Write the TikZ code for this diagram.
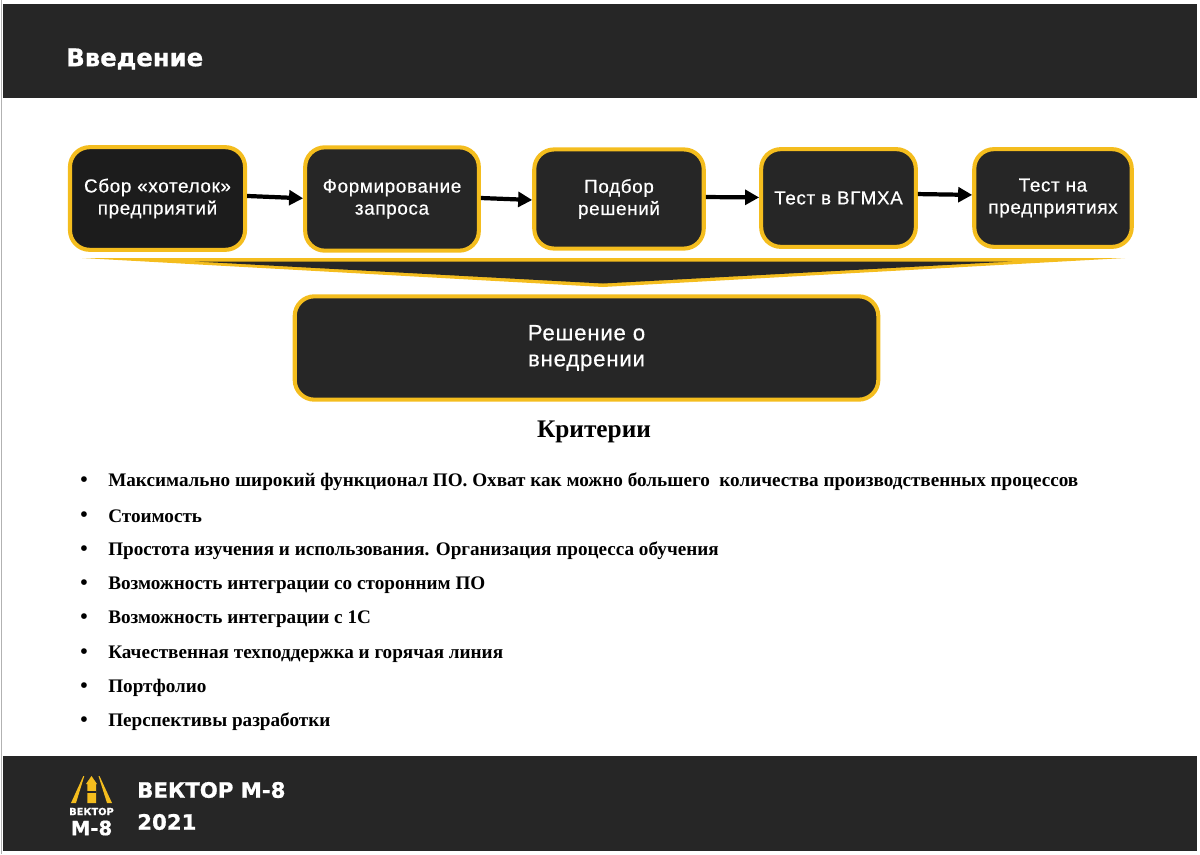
\documentclass[tikz,border=0pt]{standalone}
\usepackage{fontspec}
\setmainfont{Liberation Sans}
\newfontfamily\boxfont[FakeBold=0.5, LetterSpace=3.5]{Liberation Sans}
\newfontfamily\serifrus{Liberation Serif}
\newfontfamily\widefont[FakeBold=0.8]{DejaVu Sans}
\usepackage{xcolor}
\definecolor{dark}{RGB}{38,38,38}
\definecolor{darker}{RGB}{28,28,28}
\definecolor{accent}{RGB}{244,189,30}
\usepackage{tikz}
\usetikzlibrary{
    arrows.meta
}
\tikzset{
    stagebox/.style={draw=accent, line width=2.9pt, fill=dark, rounded corners=14pt, text=white,
        font=\boxfont\fontsize{13.4}{15.7}\selectfont, align=center, inner sep=0pt},
    flowarrow/.style={line width=3pt, -{Triangle[length=10pt,width=10.5pt]}},
    critem/.style={font=\serifrus\bfseries\fontsize{13.63}{15}\selectfont, anchor=west, inner sep=0pt},
    crbullet/.style={font=\serifrus\fontsize{17}{17}\selectfont, inner sep=0pt}
}

\begin{document}
\begin{tikzpicture}[x=0.025cm, y=-0.025cm]
        \useasboundingbox (0, 0) rectangle (1200, 854);
        % Page frame
        \draw[gray!60, line width=0.7pt] (1, 0) -- (1, 854);

        % Header
        \fill[dark] (3, 4) rectangle (1197, 98);
        \node[font=\widefont\bfseries\fontsize{17.3}{19}\selectfont, text=white, anchor=west, inner sep=0pt] (title) at (66, 59) {Введение};

        % Process boxes
        \node[stagebox, fill=darker, minimum width=124.5pt, minimum height=73pt] (collect) at (157.5, 198.5) {Сбор «хотелок»\\предприятий};
        \node[stagebox, minimum width=123.5pt, minimum height=73.5pt] (request) at (392, 199) {Формирование\\запроса};
        \node[stagebox, minimum width=120.5pt, minimum height=70.5pt] (select) at (619, 199) {Подбор\\решений};
        \node[stagebox, minimum width=110pt, minimum height=69.5pt] (vgmha) at (838.5, 198) {Тест в ВГМХА};
        \node[stagebox, minimum width=112pt, minimum height=69.5pt] (plants) at (1053, 198) {Тест на\\предприятиях};

        % Arrows
        \draw[flowarrow] ([yshift=1.8pt]collect.east) -- ([yshift=0.5pt]request.west);
        \draw[flowarrow] ([yshift=0.7pt]request.east) -- ([yshift=-0.7pt]select.west);
        \draw[flowarrow] ([yshift=1.4pt]select.east) -- ([yshift=0.4pt]vgmha.west);
        \draw[flowarrow] ([yshift=2.8pt]vgmha.east) -- ([yshift=2.2pt]plants.west);

        % Funnel
        \fill[accent] (82, 258) -- (1125, 258) -- (603, 287) -- cycle;
        \fill[dark] (195, 261.5) -- (1012, 261.5) -- (603, 283.5) -- cycle;

        % Decision
        \node[stagebox, font=\boxfont\fontsize{15.8}{18.5}\selectfont, minimum width=415pt, minimum height=73.5pt] (decision) at (586.5, 348) {Решение о\\внедрении};

        % Criteria
        \node[font=\serifrus\bfseries\fontsize{18}{20}\selectfont, inner sep=0pt] (crit) at (594, 432) {Критерии};

        \node[crbullet] (b1) at (84, 482) {•};
        \node[critem] (c1) at (108, 482) {Максимально широкий функционал ПО. Охват как можно большего\ \ количества производственных процессов};
        \node[crbullet] (b2) at (84, 517) {•};
        \node[critem] (c2) at (108, 516) {Стоимость};
        \node[crbullet] (b3) at (84, 551) {•};
        \node[critem] (c3) at (108, 551) {Простота изучения и использования. Организация процесса обучения};
        \node[crbullet] (b4) at (84, 585) {•};
        \node[critem] (c4) at (108, 585) {Возможность интеграции со сторонним ПО};
        \node[crbullet] (b5) at (84, 619) {•};
        \node[critem] (c5) at (108, 619) {Возможность интеграции с 1С};
        \node[crbullet] (b6) at (84, 654) {•};
        \node[critem] (c6) at (108, 654) {Качественная техподдержка и горячая линия};
        \node[crbullet] (b7) at (84, 688) {•};
        \node[critem] (c7) at (108, 688) {Портфолио};
        \node[crbullet] (b8) at (84, 722) {•};
        \node[critem] (c8) at (108, 722) {Перспективы разработки};

        % Footer
        \fill[dark] (3, 756) rectangle (1197, 851);
        \node[font=\widefont\bfseries\fontsize{15.1}{17}\selectfont, text=white, anchor=west, inner sep=0pt] (brand) at (137, 790) {ВЕКТОР М-8};
        \node[font=\widefont\bfseries\fontsize{15.1}{17}\selectfont, text=white, anchor=west, inner sep=0pt] (year) at (137, 822) {2021};

        % Logo
        \fill[accent] (83.3, 776) -- (71, 803) -- (76, 803) -- (84.3, 776) -- cycle;
        \fill[accent] (99.5, 776) -- (112, 803) -- (107, 803) -- (98.5, 776) -- cycle;
        \fill[accent] (91.5, 776) -- (97, 784) -- (96, 784) -- (96, 803) -- (87.3, 803) -- (87.3, 784) -- (86, 784) -- cycle;
        \fill[dark] (87.3, 791) rectangle (96, 793);
        \node[font=\widefont\bfseries\fontsize{7}{8}\selectfont, text=white, inner sep=0pt] (logotop) at (91.5, 811.5) {ВЕКТОР};
        \node[font=\widefont\bfseries\fontsize{14}{15}\selectfont, text=white, inner sep=0pt] (logobottom) at (91.5, 828) {М-8};
\end{tikzpicture}
\end{document}
